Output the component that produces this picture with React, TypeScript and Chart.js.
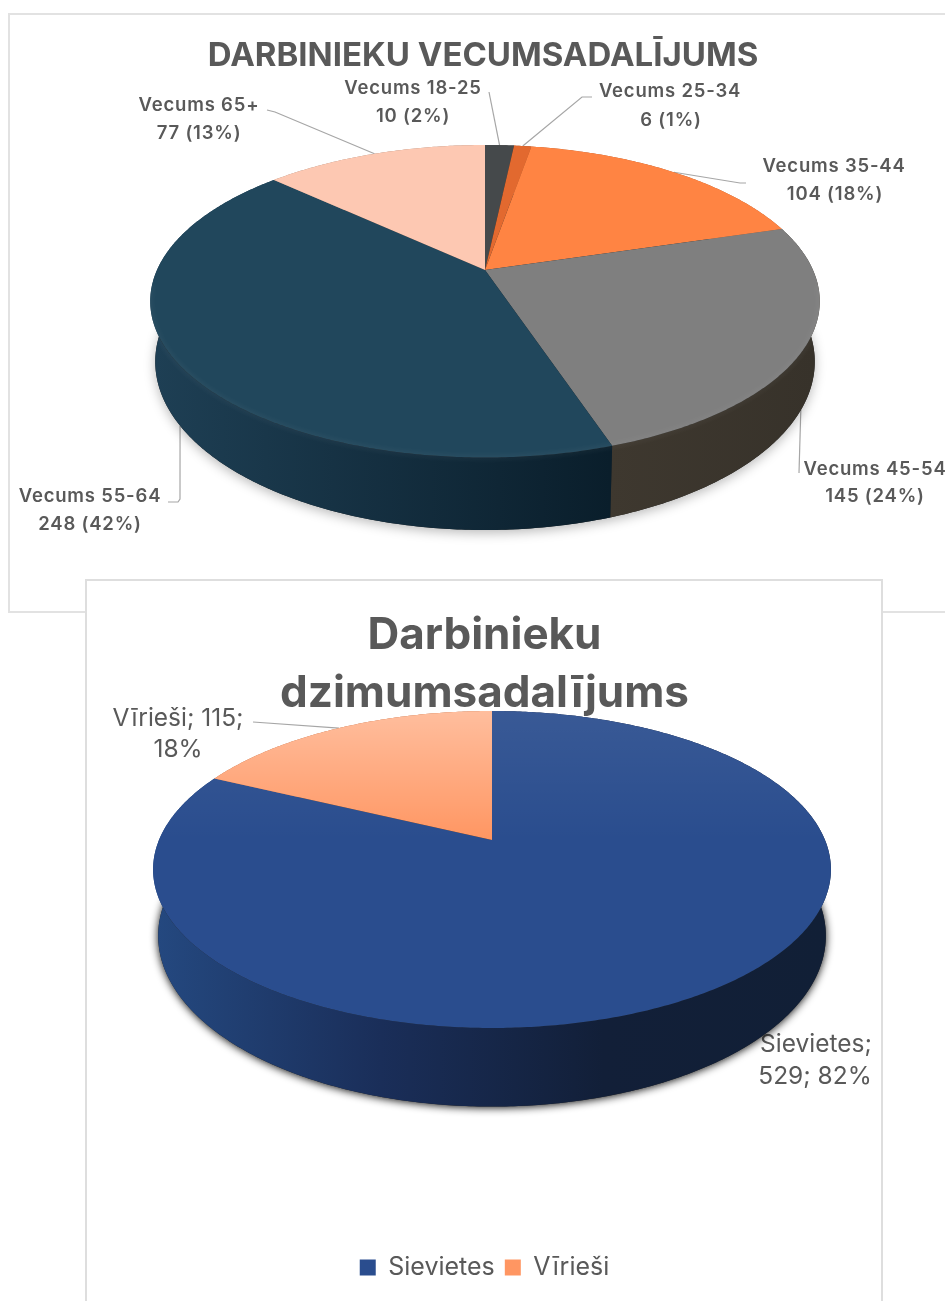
import React, { useEffect, useRef } from "react";
import { Chart, registerables } from "chart.js";

Chart.register(...registerables);

// ---- data ----
const ageCategories = ["Vecums 18-25", "Vecums 25-34", "Vecums 35-44", "Vecums 45-54", "Vecums 55-64", "Vecums 65+"];
const ageValues = [10, 6, 104, 145, 248, 77];
const agePercents = [2, 1, 18, 24, 42, 13];
const genderCategories = ["Sievietes", "Vīrieši"];
const genderValues = [529, 115];
const genderPercents = [82, 18];
const ageTitle = "DARBINIEKU VECUMSADALĪJUMS";
const genderTitle = ["Darbinieku", "dzimumsadalījums"];

// ---- styles ----
const ageColors = ["#45494b", "#e2692f", "#ff8443", "#7f7f7f", "#21475c", "#fdc8b2"];
const ageSides = [["#2a2a2a", "#2a2a2a"], ["#9a4a20", "#9a4a20"], ["#a8562a", "#a8562a"], ["#3e382f", "#37322a"], ["#1e3f54", "#0a1e2b"], ["#a08070", "#a08070"]];
const ageGloss = [0, 0, 0, 0, 0, 0];
const genderColors = ["#2a4d8e", "#ff9662"];
const genderSides = [["#24487f", "#1a2e59", "#121f38", "#111f36"], ["#a8603c", "#a8603c"]];
const genderGloss = [0.07, 0.38];
const INK = "#595959";

type Geo = { cx: number; cy: number; a: number; b: number; k: number; depth: number; shrink: number };
type Lab = { lines: string[]; cx: number[]; y: number[]; elbow: number[][]; slice: number };

const makePlugin = (opt: { geo: Geo; labels: Lab[]; font: string; spacing: string; sides: string[][]; gloss: number[]; shadow: [string, number, number]; bevel: number }) => ({
  id: "pie3d",
  beforeDatasetsDraw(chart: any) {
    const ctx: any = chart.ctx;
    const { cx, cy, a, b, k, depth, shrink } = opt.geo;
    const rim = (t: number) => {
      const u = Math.cos(t), v = Math.sin(t), d = 1 + k * v;
      return { x: cx + (a * u) / d, y: cy + (b * v) / d };
    };
    const bot = (t: number) => {
      const p = rim(t), d = 1 + k * Math.sin(t);
      return { x: cx + (p.x - cx) * shrink, y: p.y + depth / d };
    };
    const samples = (s: number, e: number) => {
      const n = Math.max(2, Math.ceil((e - s) / 0.01));
      return Array.from({ length: n + 1 }, (_, i) => s + ((e - s) * i) / n);
    };
    const arcs = chart.getDatasetMeta(0).data as any[];

    // labels and leader lines sit under the pie
    ctx.save();
    ctx.textAlign = "center";
    ctx.textBaseline = "middle";
    ctx.font = opt.font;
    ctx.letterSpacing = opt.spacing;
    ctx.fillStyle = INK;
    opt.labels.forEach((l) => {
      l.lines.forEach((t, i) => ctx.fillText(t, l.cx[i], l.y[i] + 1.5));
      if (!l.elbow.length) return;
      const el = arcs[l.slice];
      const mid = (el.startAngle + el.endAngle) / 2;
      const p = Math.sin(mid) > 0 ? bot(mid) : rim(mid);
      ctx.beginPath();
      ctx.moveTo(p.x, p.y);
      l.elbow.forEach(([x, y]) => ctx.lineTo(x, y));
      ctx.strokeStyle = "#a6a6a6";
      ctx.lineWidth = 1.2;
      ctx.stroke();
    });
    ctx.restore();

    // ground shadow
    ctx.save();
    ctx.beginPath();
    samples(0, Math.PI * 2).forEach((t, i) => {
      const p = bot(t);
      i ? ctx.lineTo(p.x, p.y) : ctx.moveTo(p.x, p.y);
    });
    ctx.closePath();
    ctx.shadowColor = opt.shadow[0];
    ctx.shadowBlur = opt.shadow[1];
    ctx.shadowOffsetY = opt.shadow[2];
    ctx.fillStyle = "#222";
    ctx.fill();
    ctx.restore();

    // side walls
    arcs.forEach((el, i) => {
      const ts = samples(el.startAngle, el.endAngle);
      const top = ts.map(rim), low = ts.map(bot);
      const xs = low.map((p) => p.x);
      const g = ctx.createLinearGradient(Math.min(...xs), 0, Math.max(...xs), 0);
      opt.sides[i].forEach((c, j, all) => g.addColorStop(j / (all.length - 1), c));
      ctx.beginPath();
      top.forEach((p, j) => (j ? ctx.lineTo(p.x, p.y) : ctx.moveTo(p.x, p.y)));
      low.reverse().forEach((p) => ctx.lineTo(p.x, p.y));
      ctx.closePath();
      ctx.fillStyle = g;
      ctx.fill();
    });

    // top faces
    arcs.forEach((el, i) => {
      const path = () => {
        ctx.beginPath();
        ctx.moveTo(cx, cy);
        samples(el.startAngle, el.endAngle).forEach((t) => {
          const p = rim(t);
          ctx.lineTo(p.x, p.y);
        });
        ctx.closePath();
      };
      path();
      ctx.fillStyle = el.options.backgroundColor;
      ctx.fill();
      if (opt.gloss[i] > 0) {
        const g = ctx.createLinearGradient(0, cy - b / (1 - k), 0, cy);
        g.addColorStop(0, `rgba(255,255,255,${opt.gloss[i]})`);
        g.addColorStop(1, "rgba(255,255,255,0)");
        path();
        ctx.fillStyle = g;
        ctx.fill();
      }
    });

    // soft bevel along the front rim
    if (opt.bevel > 0) {
      ctx.save();
      ctx.filter = "blur(2.5px)";
      ctx.beginPath();
      samples(0.1, Math.PI - 0.1).forEach((t, i) => {
        const p = rim(t);
        i ? ctx.lineTo(p.x, p.y) : ctx.moveTo(p.x, p.y);
      });
      ctx.strokeStyle = `rgba(255,255,255,${opt.bevel})`;
      ctx.lineWidth = 4;
      ctx.stroke();
      ctx.restore();
    }
    return false;
  },
});

const ageLabels: Lab[] = ageCategories.map((c, i) => {
  const cxs = [[413, 413], [670, 671], [834, 835], [875, 875], [90, 90], [199, 199]][i];
  const ys = [[87, 115], [90, 119], [165, 193], [468, 495], [495, 523], [104, 132]][i];
  const elbow = [
    [[489, 92]],
    [[582, 97], [592, 97]],
    [[740, 183], [746, 183]],
    [[799, 473]],
    [[180, 499], [178, 502], [168, 502]],
    [[275, 112], [267, 110]],
  ][i];
  return { lines: [c, `${ageValues[i]} (${agePercents[i]}%)`], cx: cxs, y: ys, elbow, slice: i };
});

// gender chart canvas sits at (88, 582)
const genderLabels: Lab[] = [
  { lines: [`${genderCategories[0]};`, `${genderValues[0]}; ${genderPercents[0]}%`], cx: [728, 727], y: [461, 493], elbow: [], slice: 0 },
  { lines: [`${genderCategories[1]}; ${genderValues[1]};`, `${genderPercents[1]}%`], cx: [90, 90], y: [135, 166], elbow: [[165, 140]], slice: 1 },
];

function useChart(ref: React.RefObject<HTMLCanvasElement | null>, make: (c: HTMLCanvasElement) => Chart) {
  useEffect(() => {
    const chart = make(ref.current as HTMLCanvasElement);
    return () => chart.destroy();
  }, []);
}

export default function App() {
  const r1 = useRef<HTMLCanvasElement>(null);
  const r2 = useRef<HTMLCanvasElement>(null);

  useChart(r1, (c) =>
    new Chart(c, {
      type: "pie",
      data: { labels: ageCategories, datasets: [{ data: ageValues, backgroundColor: ageColors, borderWidth: 0 }] },
      options: {
        responsive: false,
        animation: false,
        layout: { padding: { left: 21 } },
        plugins: {
          legend: { display: false },
          tooltip: { enabled: false },
          title: { display: true, text: ageTitle, color: INK, font: { family: "Inter", size: 33, weight: "bold" }, padding: { top: 36, bottom: 0 } },
        },
      },
      plugins: [
        makePlugin({
          geo: { cx: 485, cy: 270, a: 328, b: 150, k: -0.2, depth: 58, shrink: 0.985 },
          labels: ageLabels,
          font: "600 18.5px Inter",
          spacing: "0.8px",
          sides: ageSides,
          gloss: ageGloss,
          shadow: ["rgba(0,0,0,0.28)", 12, 3],
          bevel: 0.05,
        }),
      ],
    } as any)
  );

  useChart(r2, (c) =>
    new Chart(c, {
      type: "pie",
      data: { labels: genderCategories, datasets: [{ data: genderValues, backgroundColor: genderColors, borderWidth: 0 }] },
      options: {
        responsive: false,
        animation: false,
        layout: { padding: { bottom: 11 } },
        plugins: {
          legend: {
            display: true,
            position: "bottom",
            labels: { boxWidth: 16, boxHeight: 16, color: INK, font: { family: "Inter", size: 25 }, padding: 10 },
          },
          tooltip: { enabled: false },
          title: { display: true, text: genderTitle, color: INK, font: { family: "Inter", size: 44, weight: "bold", lineHeight: 1.32 }, padding: { top: 25, bottom: 0 } },
        },
      },
      plugins: [
        makePlugin({
          geo: { cx: 404, cy: 258, a: 333, b: 153, k: -0.186, depth: 64, shrink: 0.985 },
          labels: genderLabels,
          font: "24.5px Inter",
          spacing: "0px",
          sides: genderSides,
          gloss: genderGloss,
          shadow: ["rgba(0,0,0,0.95)", 9, 1],
          bevel: 0,
        }),
      ],
    } as any)
  );

  return (
    <div style={{ position: "absolute", left: 0, top: 0, width: 945, height: 1301, overflow: "hidden", background: "#fff" }}>
      <div style={{ position: "absolute", left: 8, top: 13, width: 960, height: 600, border: "2px solid #e2e2e2", boxSizing: "border-box" }} />
      <canvas ref={r1} width={945} height={606} style={{ position: "absolute", left: 0, top: 0, filter: "blur(0.6px)" }} />
      <div style={{ position: "absolute", left: 85, top: 579, width: 798, height: 740, border: "2.5px solid #dedede", boxSizing: "border-box", background: "#fff" }} />
      <canvas ref={r2} width={793} height={719} style={{ position: "absolute", left: 88, top: 582, filter: "blur(0.6px)" }} />
    </div>
  );
}
